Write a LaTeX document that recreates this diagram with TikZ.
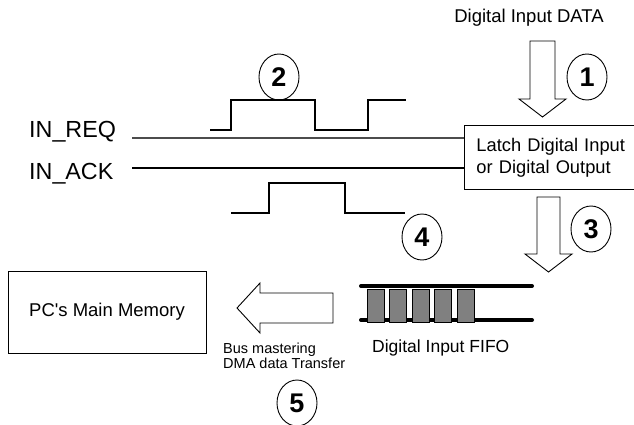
\documentclass[tikz,border=0pt]{standalone}
\usepackage{fontspec}
\setmainfont{Liberation Sans}[Ligatures = TeXOff]
\usetikzlibrary{shapes.geometric}

\begin{document}
\begin{tikzpicture}[x = 1pt, y = -1pt,
	lbl/.style = {anchor = base west, inner sep = 0},
	num/.style = {draw, ellipse, line width = 0.9pt, minimum width = 40pt, minimum height = 46pt, inner sep = 0, font = \fontsize{27}{27}\selectfont\bfseries},
	block/.style = {draw, line width = 0.9pt},
	wave/.style = {line width = 1.3pt},
	cell/.style = {draw, fill = gray, line width = 0.9pt}]
	%	page
	\useasboundingbox (0, 0) rectangle (634, 425);
	
	%	latch and signals
	\node[lbl, font = \fontsize{18.5}{18.5}\selectfont, anchor = base] (data) at (529, 23) {Digital Input DATA};
	\node[block, anchor = north west, minimum width = 190pt, minimum height = 64pt, inner xsep = 12pt, text width = 166pt, align = left, font = \fontsize{18.3}{22}\selectfont] (latch) at (464, 125) {Latch Digital Input\\or Digital Output};
	\node[lbl, font = \fontsize{23.3}{23.3}\selectfont] (req) at (29, 137) {IN\_REQ};
	\node[lbl, font = \fontsize{23.3}{23.3}\selectfont] (ack) at (29, 179) {IN\_ACK};
	\coordinate (reqS) at (132, 138);
	\coordinate (ackS) at (132, 168);
	\draw[line width = 2pt, black!70] (reqS) -- (reqS -| latch.west);
	\draw[line width = 1.3pt] (ackS) -- (ackS -| latch.west);
	
	%	pulses
	\draw[wave] (210, 130) -| (231, 100) -| (315, 130) -| (368, 100) -- (406, 100);
	\draw[wave] (231, 213) -| (269, 183) -| (345, 213) -- (405, 213);
	
	%	block arrows
	\draw[block] (530, 41) -- (555, 41) -- (555, 99) -- (566, 99) -- (542.5, 117) -- (519, 99) -- (530, 99) -- cycle;
	\draw[block] (537, 197) -- (560, 197) -- (560, 254) -- (572, 254) -- (548.5, 272) -- (525, 254) -- (537, 254) -- cycle;
	\draw[block] (333, 293) -- (333, 323) -- (260, 323) -- (260, 333) -- (237, 308) -- (260, 283) -- (260, 293) -- cycle;
	
	%	fifo
	\draw[line width = 4pt, line cap = round] (361, 286) -- (532, 286);
	\draw[line width = 4pt, line cap = round] (361, 320) -- (532, 320);
	\foreach \i in {0,...,4}
		\draw[cell] ({367 + 22.5*\i}, 289) rectangle ++(17, 33);
	\node[lbl, font = \fontsize{17.5}{17.5}\selectfont] (fifo) at (372, 352) {Digital Input FIFO};
	
	%	memory
	\node[block, minimum width = 198pt, minimum height = 82pt, font = \fontsize{18.5}{18.5}\selectfont] (mem) at (107, 312) {PC's Main Memory};
	\node[lbl, align = left, font = \fontsize{14.5}{15}\selectfont] (dma) at (223, 368) {Bus mastering\\DMA data Transfer};
	
	%	steps
	\node[num] (n1) at (587, 77) {1};
	\node[num] (n2) at (279, 77) {2};
	\node[num] (n3) at (591, 229) {3};
	\node[num] (n4) at (422, 237) {4};
	\node[num] (n5) at (297, 403) {5};
\end{tikzpicture}
\end{document}
